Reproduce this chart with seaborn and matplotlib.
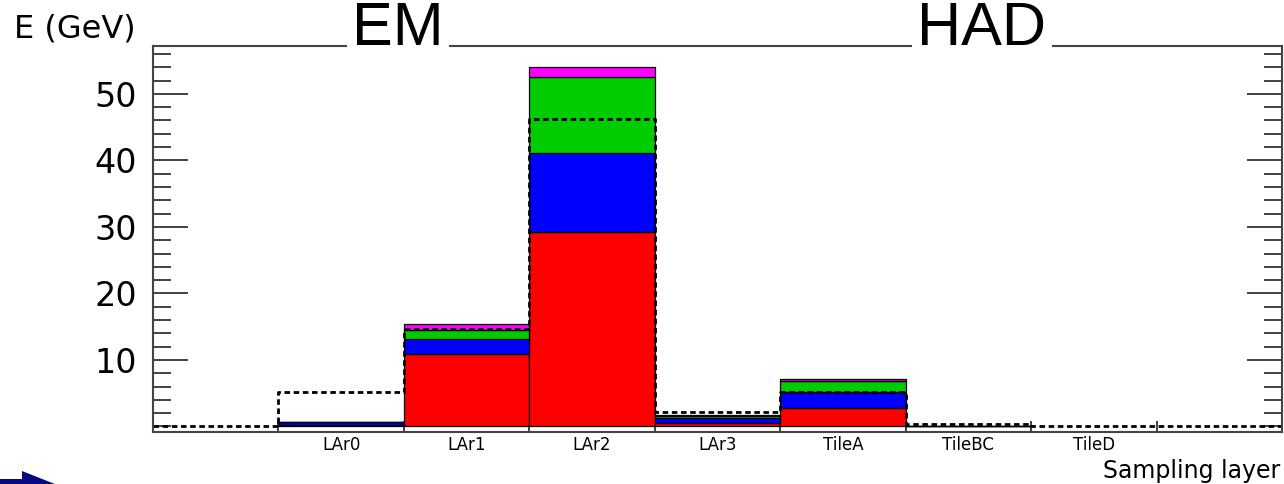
import matplotlib
matplotlib.use("Agg")
import matplotlib.pyplot as plt
from matplotlib.patches import Polygon
from matplotlib.ticker import FixedLocator, MultipleLocator
import numpy as np
import pandas as pd
import seaborn as sns

# sampling layers (bins 1..7, bin 0 and 8 are empty)
layers = ["LAr0", "LAr1", "LAr2", "LAr3", "TileA", "TileBC", "TileD"]

# stacked contributions per layer, GeV
red = [0.25, 10.95, 29.25, 0.48, 2.74, 0.05, 0.0]
blue = [0.35, 2.16, 11.83, 0.84, 2.49, 0.03, 0.0]
green = [0.08, 1.40, 11.43, 0.30, 1.61, 0.02, 0.0]
magenta = [0.04, 0.90, 1.60, 0.11, 0.26, 0.01, 0.0]

# dashed reference histogram, one value per bin incl. the two empty end bins
reference = [0.12, 5.23, 14.66, 46.24, 2.23, 5.14, 0.30, 0.12, 0.12]

colors = {"magenta": "#ff00ff", "green": "#00cc00", "blue": "#0000ff", "red": "#ff0000"}


def build_stack():
    parts = {"magenta": magenta, "green": green, "blue": blue, "red": red}
    rows = []
    for name, vals in parts.items():
        for i, v in enumerate(vals):
            rows.append({"bin": i + 1, "part": name, "E": v})
    df = pd.DataFrame(rows)
    totals = df.groupby("bin")["E"].sum()
    used = totals[totals > 0].index
    return df[df["bin"].isin(used)], list(range(used.min(), used.max() + 2))


def plot():
    sns.set_style("ticks")
    plt.rcParams["font.family"] = ["DejaVu Sans"]
    plt.rcParams["text.color"] = "black"
    plt.rcParams["xtick.labelcolor"] = "black"
    plt.rcParams["ytick.labelcolor"] = "black"

    fig = plt.figure(figsize=(12.84, 4.84), dpi=100)
    ax = fig.add_axes([153 / 1284, 1 - 432 / 484, 1129 / 1284, 386 / 484])

    stack, stack_bins = build_stack()
    sns.histplot(data=stack, x="bin", weights="E", hue="part",
                 hue_order=["magenta", "green", "blue", "red"],
                 palette=colors, multiple="stack", bins=stack_bins,
                 alpha=1, edgecolor="black", linewidth=0.9,
                 legend=False, ax=ax)

    ref = pd.DataFrame({"bin": np.arange(len(reference)), "E": reference})
    sns.histplot(data=ref, x="bin", weights="E",
                 bins=list(range(len(reference) + 1)),
                 element="step", fill=False, color="black",
                 linestyle=(0, (2, 1.3)), linewidth=2.0, ax=ax)

    ax.set_xlim(0, len(reference))
    ax.set_ylim(-0.83, 57.2)
    ax.set_xlabel("")
    ax.set_ylabel("")

    # bin edge ticks, labels centred in the bins
    edges = np.arange(1, len(layers) + 2)
    centers = np.arange(1, len(layers) + 1) + 0.5
    ax.xaxis.set_major_locator(FixedLocator(edges))
    ax.xaxis.set_minor_locator(FixedLocator(centers))
    ax.set_xticklabels([])
    ax.set_xticklabels(layers, minor=True)
    ax.tick_params(axis="x", which="major", direction="in", length=8,
                   width=1.2, color="#222222", labelbottom=False)
    ax.tick_params(axis="x", which="minor", length=0, pad=3,
                   labelsize=12, labelcolor="black")

    ax.yaxis.set_major_locator(FixedLocator([10, 20, 30, 40, 50]))
    ax.yaxis.set_minor_locator(MultipleLocator(2))
    ax.tick_params(axis="y", which="both", direction="in", left=True,
                   right=True, color="#222222", width=1.2)
    ax.tick_params(axis="y", which="major", length=25, labelsize=24,
                   pad=11.5, labelcolor="black")
    ax.tick_params(axis="y", which="minor", length=13)

    for side in ["left", "right", "top", "bottom"]:
        ax.spines[side].set_visible(True)
        ax.spines[side].set_color("#444444")
        ax.spines[side].set_linewidth(1.5)

    top = 1 - 45 / 484
    for label, x in [("EM", 398), ("HAD", 982)]:
        fig.text(x / 1284, top, label, ha="center", va="baseline",
                 fontsize=44, family="Liberation Sans", color="black",
                 bbox=dict(facecolor="white", edgecolor="none", pad=4),
                 zorder=5)

    fig.text(14 / 1284, 1 - 38 / 484, "E (GeV)", ha="left", va="baseline",
             fontsize=23)
    fig.text(1280 / 1284, 1 - 478 / 484, "Sampling layer", ha="right",
             va="baseline", fontsize=17)

    # navy arrow peeking in at the bottom-left corner
    arrow = [(0, 479), (22, 479), (22, 471), (70, 490), (22, 509), (22, 501), (0, 501)]
    fig.patches.append(Polygon([(x / 1284, 1 - y / 484) for x, y in arrow],
                               closed=True, facecolor="#0a0a80", edgecolor="none",
                               transform=fig.transFigure, figure=fig))

    fig.savefig("out.png", dpi=100)


if __name__ == '__main__':
    plot()
